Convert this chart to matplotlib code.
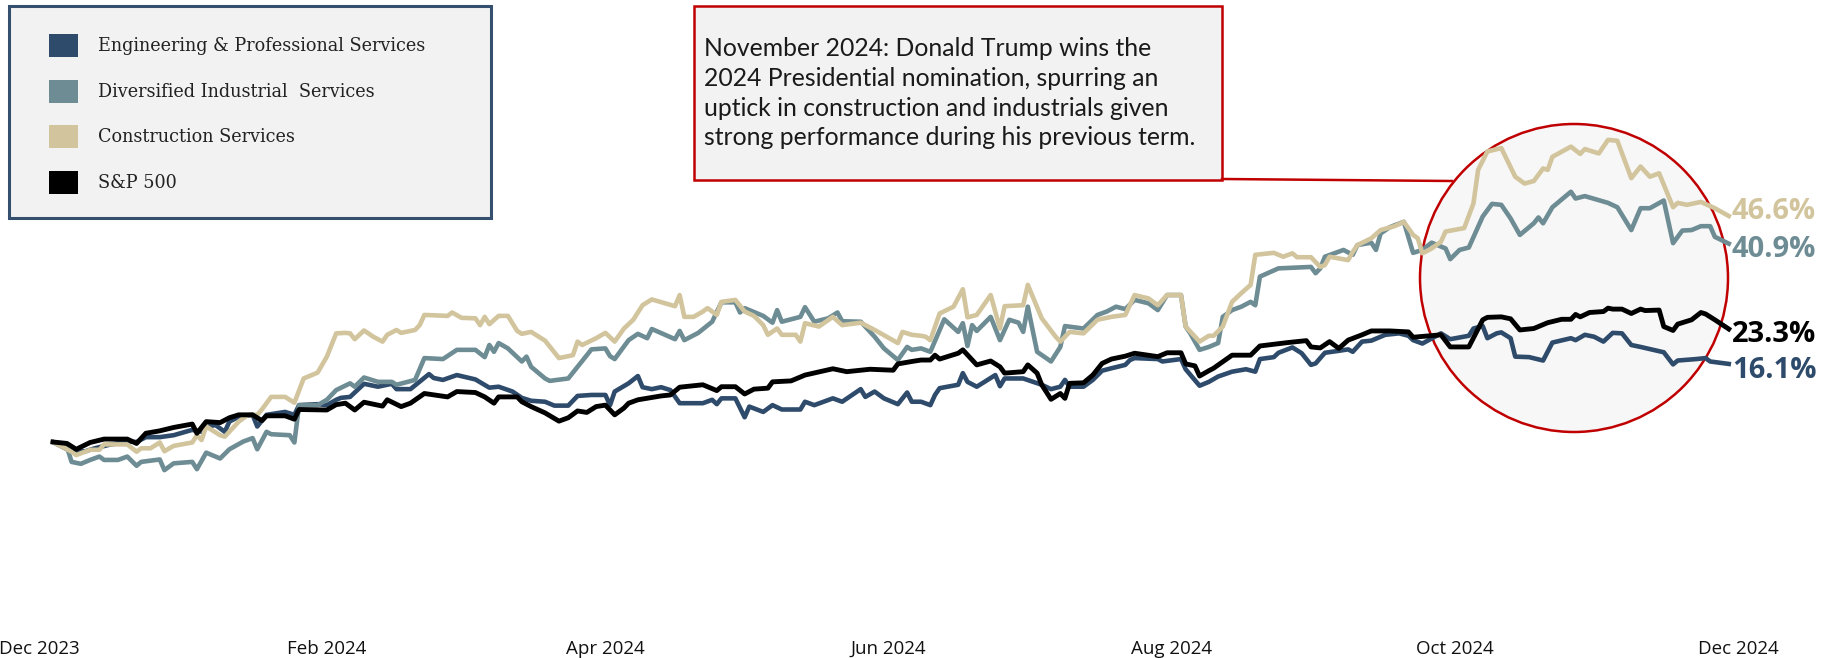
import pandas as pd
import matplotlib
matplotlib.use("Agg")
import matplotlib.pyplot as plt
import matplotlib.dates as mdates
from matplotlib.patches import Rectangle, Circle, Patch
from matplotlib.lines import Line2D

# days counted from 2023-12-04, values = cumulative return in %
start = pd.Timestamp("2023-12-04")

eng_days = [0, 4, 7, 9, 12, 16, 18, 20, 23, 26, 30, 32, 33, 35, 37, 38, 40, 43, 44, 46, 50, 52, 53, 57, 59, 61, 62, 64,
            67, 70, 73, 74, 77, 81, 82, 84, 87, 91, 94, 96, 99, 101, 103, 106, 108, 111, 113, 116, 119, 120, 121, 124,
            126, 127, 129, 131, 133, 135, 140, 142, 143, 144, 147, 149, 150, 153, 155, 157, 161, 162, 164, 168, 170,
            174, 175, 177, 179, 182, 184, 185, 187, 189, 190, 191, 195, 196, 197, 199, 203, 204, 205, 209, 213, 215,
            217, 218, 219, 222, 224, 226, 228, 231, 232, 233, 238, 239, 243, 244, 247, 249, 251, 254, 257, 259, 260,
            263, 264, 267, 269, 271, 272, 274, 277, 279, 280, 282, 284, 287, 290, 292, 293, 295, 299, 301, 305, 306,
            308, 309, 311, 312, 314, 315, 318, 321, 323, 327, 328, 330, 332, 334, 336, 338, 340, 342, 347, 349, 350,
            354, 356, 357, 361]
eng_vals = [0.0, -2.0, -1.9, -1.3, -0.6, 0.1, 0.0, 1.0, 1.0, 1.4, 2.5, 2.1, 3.1, 3.5, 2.1, 4.2, 5.2, 5.6, 3.2, 5.6, 6.2,
            5.6, 7.6, 7.8, 7.6, 8.7, 9.1, 9.3, 12.0, 11.4, 12.0, 10.9, 10.9, 14.0, 13.2, 12.8, 13.8, 12.9, 11.2, 11.4,
            10.4, 9.1, 8.5, 8.3, 7.5, 7.5, 9.5, 9.7, 9.7, 7.6, 10.4, 12.1, 13.6, 11.3, 10.9, 11.3, 10.7, 8.0, 8.0, 8.7,
            7.8, 9.0, 9.0, 5.1, 7.3, 6.2, 7.6, 6.7, 6.7, 8.3, 7.6, 9.0, 8.3, 10.9, 9.3, 10.4, 9.0, 7.8, 10.2, 8.3, 8.3,
            7.6, 9.7, 11.1, 11.8, 14.2, 12.4, 11.4, 13.8, 11.5, 13.1, 13.1, 11.8, 10.9, 11.4, 12.8, 11.4, 11.4, 12.8,
            14.7, 15.2, 15.9, 16.9, 17.3, 17.1, 16.6, 17.1, 15.0, 11.6, 12.4, 13.5, 14.5, 15.0, 14.5, 17.1, 17.5, 18.4,
            19.5, 18.3, 15.9, 16.2, 18.4, 18.8, 19.1, 18.6, 20.7, 20.9, 22.1, 22.4, 21.9, 21.0, 20.3, 22.4, 21.2, 21.9,
            23.4, 23.9, 21.4, 22.4, 22.6, 21.4, 17.6, 17.5, 16.8, 20.5, 21.4, 21.0, 22.1, 21.7, 20.7, 22.5, 22.4, 20.0,
            19.6, 18.5, 16.0, 16.8, 17.1, 17.3, 16.6, 16.1]

div_days = [0, 3, 4, 6, 8, 10, 11, 14, 16, 18, 19, 23, 24, 26, 30, 31, 33, 36, 38, 41, 43, 44, 46, 47, 51, 52, 53, 57,
            59, 61, 64, 65, 67, 70, 73, 74, 78, 80, 84, 87, 91, 93, 94, 95, 96, 98, 101, 102, 103, 106, 107, 111, 113,
            116, 119, 120, 121, 124, 126, 128, 129, 134, 135, 136, 139, 142, 144, 147, 148, 149, 153, 155, 156, 157,
            161, 162, 164, 167, 169, 170, 174, 177, 179, 182, 184, 185, 187, 189, 192, 195, 196, 197, 198, 199, 202,
            204, 206, 208, 209, 210, 212, 215, 217, 218, 222, 225, 227, 229, 231, 233, 236, 238, 240, 243, 244, 245,
            247, 249, 251, 252, 254, 256, 258, 259, 260, 264, 271, 272, 273, 274, 278, 280, 281, 284, 285, 286, 288,
            291, 293, 295, 297, 300, 301, 303, 305, 307, 308, 310, 312, 314, 316, 319, 320, 321, 323, 325, 327, 328,
            330, 335, 337, 340, 342, 344, 347, 349, 351, 353, 355, 357, 358, 361]
div_vals = [0.0, -1.0, -4.1, -4.5, -3.7, -3.0, -3.7, -3.7, -3.0, -4.9, -4.1, -3.6, -5.8, -4.4, -4.1, -5.6, -2.2, -3.4,
            -1.5, 0.1, 0.8, -1.5, 2.1, 1.6, 1.4, -0.1, 7.6, 7.6, 8.7, 10.7, 12.1, 11.4, 13.3, 12.4, 12.4, 11.8, 12.8,
            17.3, 17.1, 19.0, 19.0, 17.5, 20.0, 18.6, 20.4, 19.3, 16.6, 17.6, 15.5, 13.1, 12.6, 13.1, 15.5, 19.1, 19.3,
            17.7, 17.1, 21.0, 22.3, 21.4, 23.3, 21.2, 22.9, 21.0, 22.5, 24.8, 28.8, 28.8, 26.7, 27.6, 26.0, 24.6, 27.2,
            24.8, 25.8, 27.8, 24.8, 25.5, 26.7, 24.9, 24.8, 21.7, 19.3, 16.9, 19.6, 19.0, 19.3, 18.6, 25.3, 22.7, 24.5,
            19.8, 24.1, 22.9, 25.8, 21.0, 25.2, 24.6, 22.7, 27.9, 18.6, 16.6, 19.6, 23.9, 23.4, 26.2, 26.9, 27.9, 27.4,
            29.3, 28.6, 27.2, 30.3, 30.3, 23.8, 22.4, 19.0, 19.6, 20.4, 25.8, 27.2, 27.9, 28.9, 28.2, 34.1, 35.8, 36.1,
            34.8, 35.8, 38.2, 39.6, 38.6, 40.6, 41.1, 39.6, 43.0, 44.3, 45.4, 39.0, 39.6, 41.1, 39.9, 37.7, 39.6, 40.1,
            44.4, 46.5, 49.1, 48.9, 46.1, 42.7, 45.1, 46.3, 45.1, 48.4, 50.0, 51.6, 50.2, 50.7, 49.3, 48.4, 43.7, 48.2,
            48.2, 49.8, 41.0, 43.6, 43.7, 44.5, 44.5, 42.3, 40.9]

con_days = [0, 4, 5, 8, 10, 11, 16, 18, 19, 21, 23, 24, 26, 30, 31, 32, 33, 36, 37, 40, 42, 44, 45, 47, 50, 52, 54, 57,
            59, 61, 63, 64, 65, 67, 69, 71, 72, 74, 75, 78, 79, 80, 85, 86, 88, 91, 92, 93, 94, 96, 98, 100, 101, 103,
            106, 109, 112, 113, 114, 117, 119, 121, 123, 125, 127, 129, 134, 135, 136, 138, 140, 141, 143, 144, 147,
            149, 151, 153, 154, 156, 157, 160, 161, 162, 165, 168, 170, 174, 177, 182, 183, 185, 187, 188, 189, 191,
            194, 196, 197, 199, 202, 204, 205, 209, 210, 213, 216, 217, 219, 222, 225, 228, 231, 233, 236, 238, 240,
            243, 244, 247, 249, 250, 252, 254, 256, 258, 259, 263, 265, 267, 268, 271, 273, 274, 275, 279, 280, 281,
            284, 286, 289, 291, 293, 294, 295, 297, 299, 300, 304, 306, 307, 309, 312, 315, 317, 319, 321, 322, 323,
            327, 329, 330, 333, 335, 337, 340, 342, 344, 346, 349, 350, 352, 355, 358, 361]
con_vals = [0.0, -2.0, -2.7, -1.6, -1.6, -0.5, -0.5, -2.0, -1.3, -1.3, -0.1, -1.9, -0.8, -0.1, 1.4, 0.4, 3.2, 1.4, 1.1,
            4.2, 5.6, 5.6, 6.7, 9.3, 9.3, 8.1, 13.1, 14.3, 17.6, 22.4, 22.5, 22.4, 21.2, 23.0, 21.7, 20.7, 22.1, 23.1,
            22.5, 23.1, 24.1, 26.2, 26.0, 26.7, 25.6, 25.5, 24.1, 25.8, 24.3, 26.0, 26.0, 22.9, 22.3, 22.7, 20.9, 17.3,
            17.9, 20.7, 20.0, 21.4, 22.5, 20.7, 23.4, 25.2, 28.2, 29.4, 28.0, 30.3, 25.8, 25.8, 26.9, 27.6, 26.2, 28.9,
            29.3, 26.9, 26.0, 24.1, 22.1, 23.4, 22.1, 22.1, 20.7, 24.5, 23.8, 25.8, 24.1, 24.6, 23.1, 20.4, 22.7, 22.1,
            21.9, 21.7, 21.0, 26.5, 27.9, 31.5, 25.7, 26.2, 30.3, 23.4, 28.0, 28.2, 32.4, 25.5, 21.7, 20.7, 22.7, 22.4,
            25.2, 25.8, 26.2, 30.3, 29.6, 28.2, 30.3, 30.3, 23.8, 20.7, 21.9, 21.9, 23.8, 28.9, 30.7, 32.4, 38.6, 39.0,
            38.2, 38.9, 38.1, 38.1, 36.1, 36.5, 38.2, 37.5, 39.2, 40.6, 42.0, 43.7, 44.5, 45.4, 42.7, 42.0, 38.9, 39.9,
            41.3, 43.4, 44.1, 49.2, 56.1, 59.9, 60.6, 54.7, 53.3, 53.8, 56.4, 56.1, 58.8, 60.9, 59.4, 60.4, 59.5, 62.3,
            62.1, 54.4, 56.8, 54.7, 55.4, 48.4, 49.3, 48.9, 49.5, 48.2, 46.6]

sp_days = [0, 3, 5, 8, 11, 16, 18, 20, 23, 26, 30, 31, 33, 36, 38, 40, 43, 45, 46, 50, 52, 53, 59, 61, 63, 65, 67, 71,
           72, 75, 77, 80, 85, 87, 91, 93, 95, 96, 100, 101, 103, 106, 109, 111, 113, 115, 117, 119, 121, 123, 124,
           126, 131, 133, 135, 140, 143, 144, 147, 149, 151, 154, 155, 159, 162, 168, 171, 176, 181, 182, 185, 187,
           189, 190, 191, 195, 196, 199, 202, 204, 205, 209, 210, 212, 213, 215, 217, 218, 219, 222, 224, 226, 228,
           231, 233, 238, 240, 243, 244, 246, 247, 249, 250, 254, 258, 260, 266, 270, 271, 273, 275, 277, 279, 282,
           284, 288, 292, 293, 299, 301, 305, 308, 309, 312, 314, 316, 319, 322, 325, 327, 328, 329, 331, 334, 335,
           336, 338, 340, 342, 343, 346, 347, 349, 350, 353, 355, 356, 358, 361]
sp_vals = [0.0, -0.3, -1.5, -0.1, 0.6, 0.6, -0.3, 1.8, 2.3, 3.0, 3.7, 1.8, 4.2, 4.0, 5.0, 5.6, 5.6, 4.4, 5.4, 5.4, 4.7,
           6.7, 6.6, 7.7, 8.0, 6.6, 8.2, 7.4, 8.7, 7.3, 8.0, 10.0, 9.3, 10.4, 10.2, 9.3, 8.0, 9.3, 9.3, 8.3, 7.3, 6.0,
           4.3, 5.0, 6.4, 6.1, 7.3, 7.6, 5.6, 7.0, 8.0, 8.7, 9.5, 9.7, 11.3, 11.8, 10.6, 11.4, 11.4, 9.9, 10.9, 11.1,
           12.4, 12.6, 13.8, 15.1, 14.5, 15.0, 14.8, 16.1, 16.6, 16.9, 16.9, 17.9, 17.1, 18.3, 19.0, 15.9, 16.7, 15.5,
           14.2, 14.5, 15.9, 14.2, 11.8, 8.8, 10.0, 9.0, 12.1, 12.2, 13.8, 16.2, 17.1, 17.7, 18.3, 17.6, 18.4, 18.4,
           16.1, 15.7, 13.6, 14.7, 15.2, 17.9, 17.9, 19.8, 20.5, 20.9, 19.6, 19.4, 20.7, 19.3, 21.0, 22.1, 22.9, 22.9,
           22.7, 21.6, 22.1, 19.6, 19.6, 25.2, 25.7, 25.8, 25.4, 23.1, 23.4, 24.6, 25.3, 25.3, 26.3, 25.8, 26.7, 26.9,
           27.6, 27.4, 27.4, 26.5, 27.4, 27.1, 27.2, 23.8, 23.0, 24.3, 25.2, 26.7, 26.4, 25.2, 23.3]

names = ["Engineering & Professional Services", "Diversified Industrial  Services", "Construction Services", "S&P 500"]
colors = ["#2f4b6b", "#6d8c94", "#d2c49c", "#000000"]
tick_months = ["2023-12-01", "2024-02-01", "2024-04-01", "2024-06-01", "2024-08-01", "2024-10-01", "2024-12-01"]
note_lines = ["November 2024: Donald Trump wins the",
              "2024 Presidential nomination, spurring an",
              "uptick in construction and industrials given",
              "strong performance during his previous term."]

W, H = 1822, 658
fig = plt.figure(figsize=(W / 100, H / 100), dpi=100)
fig.patch.set_facecolor("white")
ax = fig.add_axes([0, 33 / H, 1, 625 / H])
ax.patch.set_visible(False)

def to_dates(days):
    return start + pd.to_timedelta(days, unit="D")

series = [(eng_days, eng_vals), (div_days, div_vals), (con_days, con_vals), (sp_days, sp_vals)]
draw_order = [2, 1, 0, 3]
for i in draw_order:
    d, v = series[i]
    ax.plot(to_dates(d), v, color=colors[i], lw=3.3 if i < 3 else 3.5, solid_joinstyle="round", zorder=2 + i * 0.1)

# end labels
label_dy = [-7, -6, 4, -6]
for i, (d, v) in enumerate(series):
    ax.annotate(f"{v[-1]:.1f}%", xy=(to_dates([d[-1]])[0], v[-1]), xytext=(3, label_dy[i]),
                textcoords="offset pixels", va="center", ha="left", fontsize=21, fontweight="bold",
                family="Open Sans", color=colors[i])

# axis scaling
x0 = mdates.date2num(start)
ax.set_xlim(x0 - 53 / 4.642, x0 + (W - 53) / 4.642)
ax.set_ylim(-(625 - 442) / 4.85, 442 / 4.85)
ticks = pd.to_datetime(tick_months)
ax.set_xticks(ticks)
ax.set_xticklabels([t.strftime("%b %Y") for t in ticks], family="Open Sans", fontsize=13.5, color="#111111")
ax.tick_params(axis="x", length=0, pad=11)
ax.set_yticks([])
for s in ax.spines.values():
    s.set_visible(False)

# highlight circle
fig.add_artist(Circle((15.74, 3.80), 1.54, transform=fig.dpi_scale_trans, facecolor="#f7f7f7",
                      edgecolor="#c00000", lw=1.8, zorder=-1))

# note box + connector
fig.add_artist(Rectangle((694 / W, 1 - 180 / H), 528 / W, 174 / H, transform=fig.transFigure,
                         facecolor="#f2f2f2", edgecolor="#c00000", lw=1.8, zorder=-1))
fig.add_artist(Line2D([1222 / W, 1452 / W], [1 - 179 / H, 1 - 181 / H], transform=fig.transFigure,
                      color="#c00000", lw=1.8, zorder=-1))
for k, line in enumerate(note_lines):
    fig.text(704 / W, 1 - (49 + 29.5 * k) / H, line, va="center", ha="left", family="Lato", fontsize=17.8,
             color="#1a1a1a")

# legend box
fig.add_artist(Rectangle((9 / W, 1 - 218 / H), 482 / W, 212 / H, transform=fig.transFigure,
                         facecolor="#f2f2f2", edgecolor="#34506e", lw=2.2, zorder=-1))
handles = [Patch(facecolor=c, edgecolor="none") for c in colors]
leg = ax.legend(handles, names, loc="upper left", bbox_to_anchor=(49 / W, 1 - 34 / H),
                bbox_transform=fig.transFigure, frameon=False, borderpad=0, borderaxespad=0,
                prop={"family": "DejaVu Serif", "size": 12.7}, handlelength=1.63, handleheight=1.63,
                handletextpad=1.12, labelspacing=1.28)
for t in leg.get_texts():
    t.set_color("#222222")

fig.savefig("out.png", dpi=100)
